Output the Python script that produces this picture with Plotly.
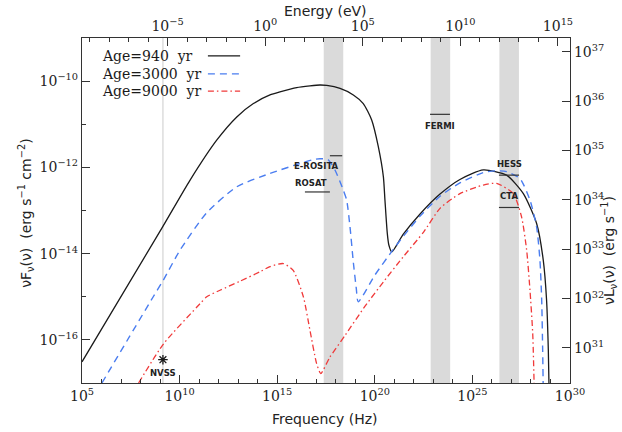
import numpy as np
import plotly.graph_objects as go

# ---------------- data ----------------
H_EV = 4.135667e-15  # Planck constant in eV s

# model SEDs: log10(nu/Hz) and log10(nu F_nu / erg s^-1 cm^-2)
lognu_940 = [5.00, 9.13, 10.53, 11.90, 12.93, 13.78, 14.63, 15.14, 16.00, 16.68, 17.19,
             17.54, 18.22, 18.90, 19.41, 19.84, 20.18, 20.44, 20.52, 20.64, 20.72, 20.87,
             21.46, 22.32, 23.34, 24.36, 25.56, 26.75, 27.61, 28.29, 28.63, 28.80, 28.89, 28.93]
logf_940 = [-16.51, -13.38, -12.30, -11.37, -10.83, -10.52, -10.32, -10.25, -10.15, -10.11, -10.09,
            -10.10, -10.17, -10.32, -10.52, -10.90, -11.52, -12.22, -12.76, -13.53, -13.80, -13.96,
            -13.55, -13.08, -12.62, -12.28, -12.06, -12.18, -12.61, -13.30, -14.15, -15.08, -16.24, -17.2]

lognu_3000 = [6.02, 8.65, 9.16, 10.02, 11.39, 12.93, 14.63, 16.17, 16.85, 17.19, 17.60, 17.96,
              18.39, 18.56, 18.73, 18.90, 19.05, 19.15, 20.00, 20.90, 21.46, 22.32, 23.34,
              24.36, 25.56, 26.20, 26.75, 27.44, 27.95, 28.29, 28.46, 28.55, 28.60, 28.63]
logf_3000 = [-17.0, -15.00, -14.62, -13.92, -13.05, -12.45, -12.14, -11.91, -11.82, -11.80, -11.82, -12.06,
             -12.53, -12.76, -13.38, -14.20, -14.80, -15.12, -14.50, -13.93, -13.60, -13.13, -12.67,
             -12.36, -12.12, -12.08, -12.10, -12.26, -12.76, -13.38, -14.15, -15.08, -16.24, -17.2]

lognu_9000 = [7.90, 9.18, 11.05, 11.39, 12.07, 13.09, 14.12, 14.63, 15.31, 15.82, 16.34, 16.68,
              17.02, 17.23, 17.70, 18.50, 19.50, 20.50, 21.50, 22.50, 23.34, 24.36, 25.56,
              26.24, 27.10, 27.52, 27.78, 27.95, 28.09, 28.17]
logf_9000 = [-17.0, -16.09, -15.16, -15.00, -14.85, -14.64, -14.42, -14.30, -14.23, -14.39, -15.00, -15.78,
             -16.55, -16.78, -16.40, -15.88, -15.22, -14.62, -14.05, -13.50, -12.95, -12.61, -12.41,
             -12.37, -12.61, -13.15, -13.92, -14.85, -15.85, -17.2]

ages = ["Age=940  yr", "Age=3000  yr", "Age=9000  yr"]

# instrument bands (energy in eV)
band_names = ["X-ray", "FERMI", "HESS"]
band_lo_ev = [1e3, 3e8, 1e12]
band_hi_ev = [1e4, 3e9, 1e13]

# sensitivities: name, log10 nu range, log10 nuF_nu
sens_names = ["E-ROSITA", "ROSAT", "FERMI", "HESS", "CTA"]
sens_lognu_lo = [17.70, 16.42, 22.83, 26.36, 26.36]
sens_lognu_hi = [18.33, 17.70, 23.85, 27.39, 27.39]
sens_logf = [-11.73, -12.57, -10.77, -12.18, -12.93]

# radio point (NVSS, 1.4 GHz)
nvss_nu = 1.4e9
nvss_logf = -16.46

# axis ranges
x_range = [5, 30]
y_range = [-17, -9]
yr_range = [30.29, 37.277]
x_ticks = [5, 10, 15, 20, 25, 30]
e_ticks = [-5, 0, 5, 10, 15]
y_ticks = [-16, -14, -12, -10]
yr_ticks = [31, 32, 33, 34, 35, 36, 37]

# ---------------- figure ----------------
BLACK = "#1a1a1a"
BLUE = "#4a7df0"
RED = "#f03a3a"
SERIF = "DejaVu Serif"
SANS = "DejaVu Sans"

styles = [dict(color=BLACK, width=1.3, dash="solid"),
          dict(color=BLUE, width=1.4, dash="7px,5px"),
          dict(color=RED, width=1.3, dash="6px,3px,1.5px,3px")]
series = [(lognu_940, logf_940), (lognu_3000, logf_3000), (lognu_9000, logf_9000)]

ymin, ymax = 10.0 ** y_range[0], 10.0 ** y_range[1]

fig = go.Figure()

# shaded instrument bands (full plot height)
for lo, hi in zip(band_lo_ev, band_hi_ev):
    nlo, nhi = lo / H_EV, hi / H_EV
    fig.add_trace(go.Scatter(x=[nlo, nhi, nhi, nlo, nlo], y=[ymin, ymin, ymax, ymax, ymin],
                             mode="lines", fill="toself", fillcolor="#dadada",
                             line=dict(width=0, color="#dadada"), showlegend=False,
                             hoverinfo="skip"))

# 1.4 GHz marker line
fig.add_trace(go.Scatter(x=[nvss_nu, nvss_nu], y=[ymin, ymax], mode="lines",
                         line=dict(color="#d4d4d4", width=1.2), showlegend=False,
                         hoverinfo="skip"))

for (ln, lf), st, name in zip(series, styles, ages):
    fig.add_trace(go.Scatter(x=10 ** np.array(ln), y=10 ** np.array(lf), mode="lines",
                             line=dict(**st, shape="spline", smoothing=0.6),
                             name=name, showlegend=False, hoverinfo="skip"))

# sensitivity levels
for nm, lo, hi, lf in zip(sens_names, sens_lognu_lo, sens_lognu_hi, sens_logf):
    fig.add_trace(go.Scatter(x=[10 ** lo, 10 ** hi], y=[10 ** lf, 10 ** lf], mode="lines",
                             line=dict(color="#333333", width=1.2), showlegend=False,
                             hoverinfo="skip"))

# NVSS flux
fig.add_trace(go.Scatter(x=[nvss_nu], y=[10 ** nvss_logf], mode="markers",
                         marker=dict(symbol="asterisk", size=8,
                                     line=dict(color=BLACK, width=1.3)),
                         showlegend=False, hoverinfo="skip"))

# empty trace to activate the energy / luminosity axes
fig.add_trace(go.Scatter(x=[], y=[], xaxis="x2", yaxis="y2", showlegend=False))

label_font = dict(family=SANS, size=8.5, color="#222222", weight="bold")
sens_label = {
    "E-ROSITA": dict(x=sens_lognu_hi[0], y=sens_logf[0], xanchor="right", xshift=-1, yshift=-10),
    "ROSAT": dict(x=sens_lognu_lo[1], y=sens_logf[1], xanchor="left", xshift=-12, yshift=9),
    "FERMI": dict(x=(sens_lognu_lo[2] + sens_lognu_hi[2]) / 2, y=sens_logf[2], xanchor="center", xshift=0, yshift=-12),
    "HESS": dict(x=(sens_lognu_lo[3] + sens_lognu_hi[3]) / 2, y=sens_logf[3], xanchor="center", xshift=0, yshift=11),
    "CTA": dict(x=(sens_lognu_lo[4] + sens_lognu_hi[4]) / 2, y=sens_logf[4], xanchor="center", xshift=0, yshift=11),
}
for nm in sens_names:
    p = sens_label[nm]
    fig.add_annotation(x=p["x"], y=p["y"], xref="x", yref="y", text=nm, showarrow=False,
                       xanchor=p["xanchor"], yanchor="middle", xshift=p["xshift"], yshift=p["yshift"],
                       font=label_font)
fig.add_annotation(x=np.log10(nvss_nu), y=nvss_logf, xref="x", yref="y", text="NVSS",
                   showarrow=False, xanchor="center", yanchor="middle", yshift=-13,
                   font=label_font)

# legend (text followed by line sample)
leg_y = [0.948, 0.896, 0.846]
for name, st, yy in zip(ages, styles, leg_y):
    fig.add_annotation(x=0.037, y=yy, xref="paper", yref="paper", text=name.replace("  ", "&nbsp; "),
                       showarrow=False, xanchor="left", yanchor="middle",
                       font=dict(family=SERIF, size=14, color=BLACK))
    fig.add_shape(type="line", xref="paper", yref="paper", x0=0.258, x1=0.324, y0=yy, y1=yy,
                  line=dict(color=st["color"], width=st["width"], dash=st["dash"]))

# axis titles
title_font = dict(family=SANS, size=14, color="#222222")
fig.add_annotation(x=0.498, y=-0.105, xref="paper", yref="paper", text="Frequency (Hz)",
                   showarrow=False, xanchor="center", yanchor="middle", font=title_font)
fig.add_annotation(x=0.498, y=1.077, xref="paper", yref="paper", text="Energy (eV)",
                   showarrow=False, xanchor="center", yanchor="middle", font=title_font)
fig.add_annotation(x=-0.115, y=0.493, xref="paper", yref="paper",
                   text="νF<sub>ν</sub>(ν)  (erg s<sup>−1</sup> cm<sup>−2</sup>)",
                   showarrow=False, textangle=-90, xanchor="center", yanchor="middle", font=title_font)
fig.add_annotation(x=1.08, y=0.383, xref="paper", yref="paper",
                   text="νL<sub>ν</sub>(ν)  (erg s<sup>−1</sup>)",
                   showarrow=False, textangle=-90, xanchor="center", yanchor="middle", font=title_font)


def pow_label(e):
    s = str(e).replace("-", "−")
    return f"10<sup>{s}</sup>"


tick_font = dict(family=SERIF, size=14, color="#222222")
axis_common = dict(type="log", showgrid=False, zeroline=False, showline=True,
                   linecolor="#333333", linewidth=1.2, ticks="inside", ticklen=8,
                   tickwidth=1, tickcolor="#333333", tickfont=tick_font, tickmode="array")

lo_e = x_range[0] + np.log10(H_EV)
hi_e = x_range[1] + np.log10(H_EV)

fig.update_layout(
    width=622, height=432,
    margin=dict(l=82, r=52, t=38, b=49),
    paper_bgcolor="white", plot_bgcolor="white",
    xaxis=dict(range=x_range, tickvals=[10.0 ** v for v in x_ticks],
               ticktext=[pow_label(v) for v in x_ticks],
               minor=dict(tickvals=[10.0 ** v for v in range(x_range[0], x_range[1] + 1)],
                          ticklen=4, tickcolor="#333333", ticks="inside"),
               anchor="y", **axis_common),
    xaxis2=dict(range=[lo_e, hi_e], overlaying="x", side="top", anchor="y",
                tickvals=[10.0 ** v for v in e_ticks], ticktext=[pow_label(v) for v in e_ticks],
                minor=dict(tickvals=[10.0 ** v for v in range(-9, 16)],
                           ticklen=4, tickcolor="#333333", ticks="inside"),
                **axis_common),
    yaxis=dict(range=y_range, tickvals=[10.0 ** v for v in y_ticks],
               ticktext=[pow_label(v) for v in y_ticks],
               minor=dict(tickvals=[10.0 ** v for v in range(y_range[0], y_range[1] + 1)],
                          ticklen=4, tickcolor="#333333", ticks="inside"),
               anchor="x", **axis_common),
    yaxis2=dict(range=yr_range, overlaying="y", side="right", anchor="x",
                tickvals=[10.0 ** v for v in yr_ticks], ticktext=[pow_label(v) for v in yr_ticks],
                **axis_common),
)

fig.write_html("out.html")
